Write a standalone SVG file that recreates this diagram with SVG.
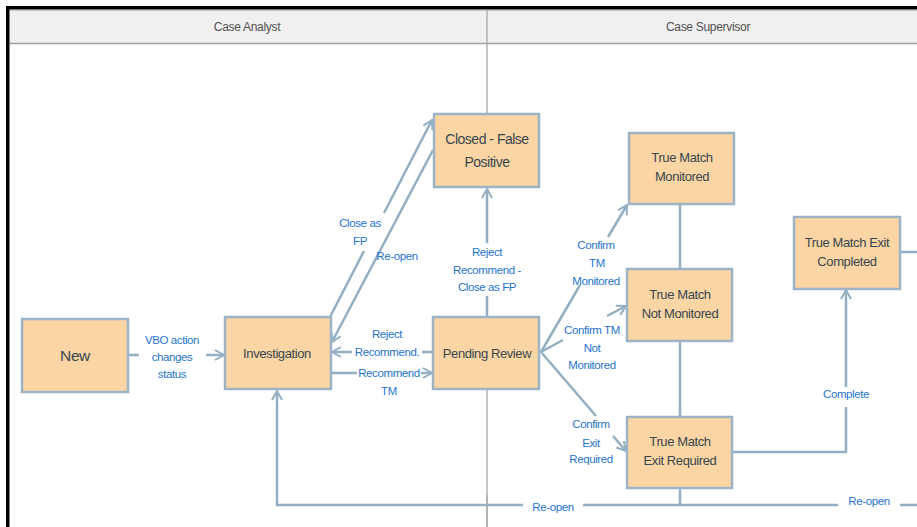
<svg xmlns="http://www.w3.org/2000/svg" width="917" height="527" viewBox="0 0 917 527">
<style>
.node rect{fill:#fcd5a4;stroke:#9cb4c5;stroke-width:2.5}
.node text{font-family:"Liberation Sans",Arial,sans-serif;font-size:13px;letter-spacing:-0.4px;fill:#36464e;text-anchor:middle}
.conn{fill:none;stroke:#93afc1;stroke-width:2.5}
.lbl{font-family:"Liberation Sans",Arial,sans-serif;font-size:11.5px;letter-spacing:-0.4px;fill:#1f74cc;text-anchor:middle}
.hdr{font-family:"Liberation Sans",Arial,sans-serif;font-size:12px;letter-spacing:-0.3px;fill:#505050;text-anchor:middle}
.div{stroke:#a8a8a8;stroke-width:1.3}
</style>
<defs>
<marker id="arr" viewBox="0 0 12 12" refX="11" refY="6" markerWidth="12" markerHeight="12" markerUnits="userSpaceOnUse" orient="auto">
<path d="M2,1 L11,6 L2,11" fill="none" stroke="#93afc1" stroke-width="2"/>
</marker>
</defs>
<rect x="0" y="0" width="917" height="527" fill="#ffffff"/>
<g id="frame">
<rect x="9" y="10" width="908" height="33" fill="#f0f0f0"/>
<line x1="9" y1="10.5" x2="917" y2="10.5" stroke="#c4c4c4" stroke-width="1"/>
<line x1="9" y1="43.5" x2="917" y2="43.5" stroke="#a0a0a0" stroke-width="1.6"/>
<rect x="6" y="6" width="911" height="3.5" fill="#000"/>
<rect x="6" y="6" width="3.5" height="521" fill="#000"/>
<line class="div" x1="487" y1="10" x2="487" y2="114"/>
<line class="div" x1="487" y1="389" x2="487" y2="527"/>
<text class="hdr" x="247" y="31">Case Analyst</text>
<text class="hdr" x="708" y="31">Case Supervisor</text>
</g>
<g id="connectors">
<path class="conn" d="M128,355 H139"/>
<path class="conn" d="M206,355 H224" marker-end="url(#arr)"/>
<path class="conn" d="M330,317 L364,251"/>
<path class="conn" d="M384,213 L432,120" marker-end="url(#arr)"/>
<path class="conn" d="M433,150 L332,342" marker-end="url(#arr)"/>
<path class="conn" d="M433,352 H422"/>
<path class="conn" d="M352,352 H332" marker-end="url(#arr)"/>
<path class="conn" d="M331,373 H357"/>
<path class="conn" d="M421,373 H432" marker-end="url(#arr)"/>
<path class="conn" d="M487,317 V296"/>
<path class="conn" d="M487,243 V189" marker-end="url(#arr)"/>
<path class="conn" d="M541,352 L580,285"/>
<path class="conn" d="M608,237 L627,205" marker-end="url(#arr)"/>
<path class="conn" d="M541,352 L563,340"/>
<path class="conn" d="M607,316 L626,306" marker-end="url(#arr)"/>
<path class="conn" d="M541,352 L596,416"/>
<path class="conn" d="M613,436 L626,451" marker-end="url(#arr)"/>
<path class="conn" d="M680,204 V269"/>
<path class="conn" d="M680,341 V417"/>
<path class="conn" d="M680,488 V505"/>
<path class="conn" d="M733,452 H846 V407"/>
<path class="conn" d="M846,387 V290" marker-end="url(#arr)"/>
<path class="conn" d="M900,252 H917"/>
<path class="conn" d="M917,505 H900"/>
<path class="conn" d="M838,505 H583"/>
<path class="conn" d="M523,505 H277 V391" marker-end="url(#arr)"/>
<line class="div" x1="487" y1="495" x2="487" y2="527"/>
</g>
<g id="labels">
<text class="lbl" x="172" y="344">VBO action</text>
<text class="lbl" x="172" y="361">changes</text>
<text class="lbl" x="172" y="378">status</text>
<text class="lbl" x="360" y="227">Close as</text>
<text class="lbl" x="360" y="245">FP</text>
<text class="lbl" x="397" y="260">Re-open</text>
<text class="lbl" x="387" y="338">Reject</text>
<text class="lbl" x="387" y="356">Recommend.</text>
<text class="lbl" x="389" y="377">Recommend</text>
<text class="lbl" x="389" y="395">TM</text>
<text class="lbl" x="487" y="256">Reject</text>
<text class="lbl" x="487" y="274">Recommend -</text>
<text class="lbl" x="487" y="291">Close as FP</text>
<text class="lbl" x="596" y="249">Confirm</text>
<text class="lbl" x="597" y="267">TM</text>
<text class="lbl" x="596" y="285">Monitored</text>
<text class="lbl" x="592" y="334">Confirm TM</text>
<text class="lbl" x="592" y="352">Not</text>
<text class="lbl" x="592" y="369">Monitored</text>
<text class="lbl" x="591" y="428">Confirm</text>
<text class="lbl" x="591" y="447">Exit</text>
<text class="lbl" x="591" y="463">Required</text>
<text class="lbl" x="846" y="398">Complete</text>
<text class="lbl" x="553" y="511">Re-open</text>
<text class="lbl" x="869" y="505">Re-open</text>
</g>
<g id="node-new" class="node"><rect x="22" y="319" width="106" height="73"/><text x="75" y="361" style="font-size:15.5px">New</text></g>
<g id="node-investigation" class="node"><rect x="225" y="317" width="106" height="72"/><text x="277" y="358">Investigation</text></g>
<g id="node-closed-fp" class="node"><rect x="434" y="114" width="105" height="73"/><text x="487" y="144" style="font-size:14px;letter-spacing:-0.5px">Closed - False</text><text x="487" y="167" style="font-size:14px;letter-spacing:-0.5px">Positive</text></g>
<g id="node-pending-review" class="node"><rect x="433" y="317" width="106" height="72"/><text x="487" y="358">Pending Review</text></g>
<g id="node-tm-monitored" class="node"><rect x="629" y="133" width="105" height="71"/><text x="682" y="162">True Match</text><text x="682" y="181">Monitored</text></g>
<g id="node-tm-not-monitored" class="node"><rect x="627" y="269" width="105" height="72"/><text x="680" y="299">True Match</text><text x="680" y="318">Not Monitored</text></g>
<g id="node-tm-exit-required" class="node"><rect x="627" y="417" width="105" height="71"/><text x="680" y="446">True Match</text><text x="680" y="465">Exit Required</text></g>
<g id="node-tm-exit-completed" class="node"><rect x="794" y="217" width="106" height="72"/><text x="847" y="247">True Match Exit</text><text x="847" y="266">Completed</text></g>
</svg>
